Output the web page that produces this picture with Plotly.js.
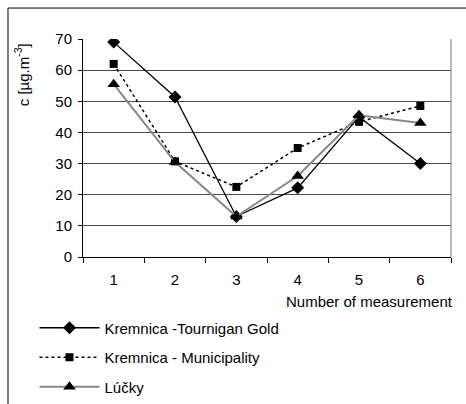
<!DOCTYPE html>
<html>
<head>
<meta charset="utf-8">
<script src="https://cdn.plot.ly/plotly-3.0.1.min.js"></script>
<style>html,body{margin:0;padding:0;background:#fff;}#chart{width:466px;height:404px;}</style>
</head>
<body>
<div id="chart"></div>
<script>
var categories = ["1", "2", "3", "4", "5", "6"];
var tourniganGold = [69, 51.4, 13, 22.2, 45, 30];
var municipality = [62, 30.7, 22.5, 35, 43.4, 48.5];
var lucky = [55.5, 30.5, 13, 26, 45.5, 43];
var seriesNames = ["Kremnica -Tournigan Gold", "Kremnica - Municipality", "Lúčky"];
var yTickVals = [0, 10, 20, 30, 40, 50, 60, 70];

var font = "Liberation Sans, Arial, sans-serif";

var traces = [
  {x: categories, y: tourniganGold, name: seriesNames[0], type: "scatter", mode: "lines+markers",
   line: {color: "#000", width: 1.3}, marker: {symbol: "diamond", size: 10, color: "#000"}, legendgroup: "a"},
  {x: categories, y: municipality, name: seriesNames[1], type: "scatter", mode: "lines+markers",
   line: {color: "#000", width: 1.5, dash: "dot"}, marker: {symbol: "square", size: 8, color: "#000"}, legendgroup: "b"},
  {x: categories, y: lucky, name: seriesNames[2], type: "scatter", mode: "lines+markers",
   line: {color: "#888", width: 2}, marker: {symbol: "triangle-up", size: 11, color: "#000"}, legendgroup: "c"}
];

var layout = {
  width: 466, height: 404,
  margin: {l: 83, r: 15, t: 39, b: 147, autoexpand: false},
  paper_bgcolor: "#fff", plot_bgcolor: "#fff",
  font: {family: font, size: 15, color: "#000"},
  showlegend: true,
  legend: {xref: "container", yref: "container", x: 0.074, xanchor: "left", y: 0.229, yanchor: "top",
           traceorder: "grouped", tracegroupgap: 7,
           itemwidth: 60, font: {family: font, size: 15, color: "#000"}, bgcolor: "rgba(0,0,0,0)"},
  xaxis: {type: "category", range: [-0.5, 5.5], tickson: "boundaries", ticks: "outside", ticklen: 5,
          tickcolor: "#000", showline: true, linecolor: "#000", linewidth: 1, showgrid: false,
          zeroline: false, ticklabelstandoff: 9, tickfont: {family: font, size: 15}},
  yaxis: {range: [0, 70], tickvals: yTickVals, ticks: "outside", ticklen: 4, tickcolor: "#000",
          showline: true, linecolor: "#000", linewidth: 1, showgrid: true, gridcolor: "#4a4a4a", gridwidth: 1,
          zeroline: false, ticklabelstandoff: 3, tickfont: {family: font, size: 15}},
  annotations: [
    {text: "c [µg.m<sup>-3</sup>]", xref: "paper", yref: "paper", x: -0.165, y: 0.835, textangle: -90,
     showarrow: false, xanchor: "center", yanchor: "middle", font: {family: font, size: 15}},
    {text: "Number of measurement", xref: "paper", yref: "paper", x: 1.01, y: -0.205, xanchor: "right", yanchor: "middle",
     showarrow: false, font: {family: font, size: 15}}
  ],
  shapes: [
    {type: "line", xref: "paper", yref: "paper", x0: 1, x1: 1, y0: 0, y1: 1, line: {color: "#777", width: 1}},
    {type: "rect", xref: "paper", yref: "paper", x0: -0.2038, x1: 1.2, y0: -0.8, y1: 1.142, line: {color: "#000", width: 1}}
  ]
};

Plotly.newPlot("chart", traces, layout, {staticPlot: true, displayModeBar: false});
</script>
</body>
</html>
